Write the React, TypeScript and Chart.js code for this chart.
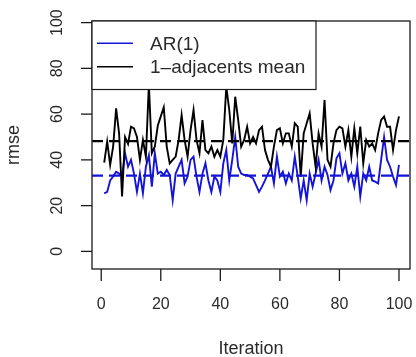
import React, { useEffect, useRef } from "react";
import { Chart, registerables } from "chart.js";

Chart.register(...registerables);

const iterations: number[] = Array.from({ length: 100 }, (_, i) => i + 1);

const arValues: number[] = [
  25.4, 26, 31, 32.7, 34.8, 34, 32.7, 42.9, 37, 40,
  34, 26, 34, 25.4, 37, 42, 28.3, 42.9, 34, 34.8,
  33.4, 35.6, 33.4, 22.4, 34, 37, 40, 29.7, 32.7, 40,
  41.4, 32.7, 26, 34, 38.5, 31, 26, 32.7, 31, 26,
  38.5, 44.3, 31, 40, 50, 37, 34, 33.4, 33.4, 32.7,
  31.9, 29, 26, 28.3, 31, 34, 37, 29.7, 41.4, 32.7,
  34.8, 29.7, 34, 31, 41.4, 32.7, 23.2, 31, 22.4, 34,
  28.3, 34, 40, 31, 37, 33.4, 26.8, 31, 40.7, 42.9,
  34, 38.5, 31, 34, 28.3, 37, 24, 34, 31, 37,
  31, 30.5, 29.7, 40, 50, 40, 37, 32.7, 29, 37.8,
];

const adjValues: number[] = [
  38.8, 48, 37.8, 45.8, 62.5, 51.6, 24, 50, 47, 54.5,
  53.8, 50, 40, 48.7, 41.4, 73, 42.9, 45.8, 55, 59,
  63, 45.8, 38.5, 40, 41.4, 48.7, 59.6, 48.7, 41.4, 53,
  61.8, 48.7, 42.9, 57.4, 44.3, 42.9, 45.8, 41.4, 44.3, 41.4,
  48.7, 72, 61.8, 47.2, 67.6, 57.4, 45.8, 48.7, 54.5, 47.2,
  50, 47.2, 53, 54.5, 44.3, 40, 37, 45.8, 53, 53.8,
  47.2, 51.6, 51.6, 45.8, 56, 54.5, 32.7, 51.6, 56, 60.3,
  47.2, 37, 51.6, 45.8, 66.2, 40, 37, 47.2, 53, 54.5,
  53.8, 45.8, 53, 41.4, 53.8, 42.9, 54.5, 38.5, 48.7, 45.8,
  47.2, 44.3, 51.6, 57.4, 59, 54.5, 54.5, 44.3, 53, 59,
];

const arMean = 33.1;
const adjMean = 48.2;

const xTicks: number[] = [0, 20, 40, 60, 80, 100];
const yTicks: number[] = [0, 20, 40, 60, 80, 100];
const legendLabels: string[] = ["AR(1)", "1\u2013adjacents mean"];
const xTitle = "Iteration";
const yTitle = "rmse";

const BLUE = "#1414d8";
const BLACK = "#000000";
const TEXT = "#2a2a2a";
const FONT = '"Liberation Sans", Arial, Helvetica, sans-serif';
const X_MIN = -3.1;
const X_MAX = 103.7;
const Y_MIN = -7.7;
const Y_MAX = 100.7;

const rAxesPlugin = {
  id: "rAxes",
  afterDraw(chart: any) {
    const ctx = chart.ctx as CanvasRenderingContext2D;
    const area = chart.chartArea;
    const xs = chart.scales.x;
    const ys = chart.scales.y;
    ctx.save();
    ctx.strokeStyle = "#1a1a1a";
    ctx.lineWidth = 1.3;
    ctx.strokeRect(area.left, area.top, area.right - area.left, area.bottom - area.top);

    ctx.fillStyle = TEXT;
    ctx.font = `16px ${FONT}`;
    ctx.textAlign = "center";
    ctx.textBaseline = "middle";
    for (const t of xTicks) {
      const px = xs.getPixelForValue(t);
      ctx.beginPath();
      ctx.moveTo(px, area.bottom);
      ctx.lineTo(px, area.bottom + 12);
      ctx.stroke();
      ctx.fillText(String(t), px, 304.5);
    }
    for (const t of yTicks) {
      const py = ys.getPixelForValue(t);
      ctx.beginPath();
      ctx.moveTo(area.left, py);
      ctx.lineTo(area.left - 11, py);
      ctx.stroke();
      ctx.save();
      ctx.translate(58, py);
      ctx.rotate(-Math.PI / 2);
      ctx.fillText(String(t), 0, 0);
      ctx.restore();
    }
    ctx.font = `18px ${FONT}`;
    ctx.fillText(xTitle, (area.left + area.right) / 2, 349);
    ctx.save();
    ctx.translate(14, (area.top + area.bottom) / 2);
    ctx.rotate(-Math.PI / 2);
    ctx.fillText(yTitle, 0, 0);
    ctx.restore();

    const lx = area.left;
    const ly = area.top;
    const lw = 224;
    const lh = 68.5;
    ctx.fillStyle = "#ffffff";
    ctx.fillRect(lx, ly, lw, lh);
    ctx.strokeStyle = "#1a1a1a";
    ctx.lineWidth = 1.2;
    ctx.strokeRect(lx, ly, lw, lh);
    const colors = [BLUE, BLACK];
    const rowsY = [43.3, 66.7];
    ctx.font = `19px ${FONT}`;
    ctx.textAlign = "left";
    for (let i = 0; i < legendLabels.length; i++) {
      ctx.strokeStyle = colors[i];
      ctx.lineWidth = 1.4;
      ctx.beginPath();
      ctx.moveTo(97, rowsY[i]);
      ctx.lineTo(133, rowsY[i]);
      ctx.stroke();
      ctx.fillStyle = TEXT;
      ctx.fillText(legendLabels[i], 150, rowsY[i] + 1);
    }
    ctx.restore();
  },
};

export default function App() {
  const ref = useRef<HTMLCanvasElement | null>(null);
  useEffect(() => {
    if (!ref.current) return;
    const arPts = iterations.map((x, i) => ({ x, y: arValues[i] }));
    const adjPts = iterations.map((x, i) => ({ x, y: adjValues[i] }));
    const chart = new Chart(ref.current, {
      type: "line",
      data: {
        datasets: [
          {
            label: "adj mean line",
            data: [{ x: X_MIN, y: adjMean }, { x: X_MAX, y: adjMean }],
            borderColor: BLACK,
            borderWidth: 2.2,
            borderDash: [11, 6],
            pointRadius: 0,
            order: 0,
          },
          {
            label: "ar mean line",
            data: [{ x: X_MIN, y: arMean }, { x: X_MAX, y: arMean }],
            borderColor: BLUE,
            borderWidth: 2.2,
            borderDash: [11, 6],
            pointRadius: 0,
            order: 0,
          },
          {
            label: legendLabels[1],
            data: adjPts,
            borderColor: BLACK,
            borderWidth: 1.9,
            pointRadius: 0,
            tension: 0,
            order: 1,
          },
          {
            label: legendLabels[0],
            data: arPts,
            borderColor: BLUE,
            borderWidth: 1.9,
            pointRadius: 0,
            tension: 0,
            order: 2,
          },
        ],
      },
      options: {
        responsive: false,
        animation: false,
        events: [],
        layout: { padding: { left: 92, right: 6, top: 21, bottom: 88 } },
        plugins: { legend: { display: false }, tooltip: { enabled: false } },
        scales: {
          x: { type: "linear", min: X_MIN, max: X_MAX, display: false },
          y: { type: "linear", min: Y_MIN, max: Y_MAX, display: false },
        },
      },
      plugins: [rAxesPlugin],
    });
    return () => chart.destroy();
  }, []);
  return (
    <div style={{ position: "fixed", left: 0, top: 0, width: 416, height: 357, background: "#fff" }}>
      <canvas ref={ref} width={416} height={357} />
    </div>
  );
}
